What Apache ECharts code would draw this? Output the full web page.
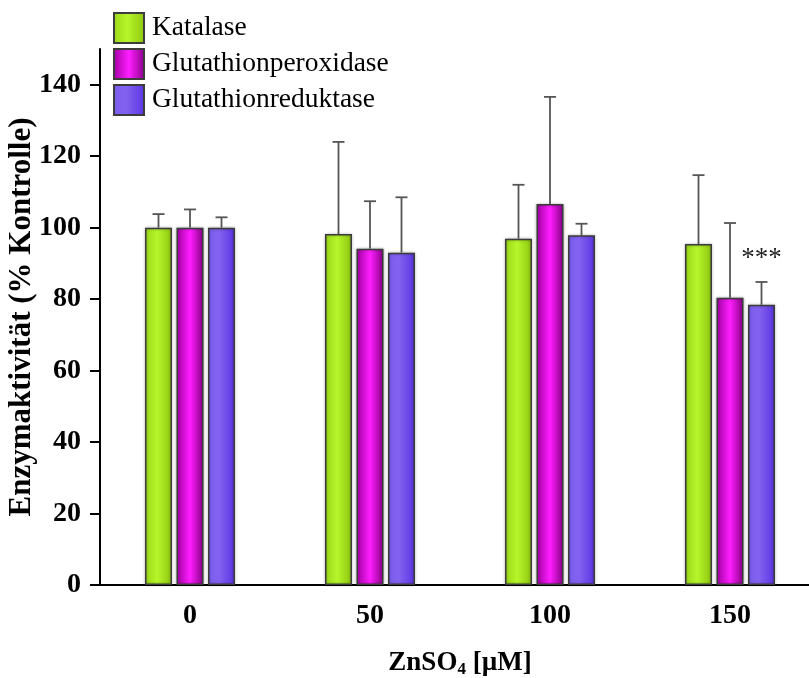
<!DOCTYPE html>
<html>
<head>
<meta charset="utf-8">
<script src="https://cdn.jsdelivr.net/npm/echarts@6/dist/echarts.min.js"></script>
<style>html,body{margin:0;padding:0;background:#fff}#c{width:809px;height:678px}</style>
</head>
<body>
<div id="c"></div>
<script>
const categories = ['0', '50', '100', '150'];
const seriesNames = ['Katalase', 'Glutathionperoxidase', 'Glutathionreduktase'];
const katalase = [100, 98.2, 96.9, 95.4];
const katalaseErr = [3.8, 25.8, 15.1, 19.3];
const gpx = [100, 94.1, 106.6, 80.4];
const gpxErr = [5.1, 13.3, 30.0, 20.9];
const gr = [100, 93.0, 97.9, 78.4];
const grErr = [2.9, 15.5, 3.2, 6.4];
const grSig = ['', '', '', '***'];
const yTicks = [0, 20, 40, 60, 80, 100, 120, 140];

const FONT = '"Liberation Serif", "Times New Roman", serif';

function grad(stops) {
  return new echarts.graphic.LinearGradient(0, 0, 1, 0, stops.map((c) => ({ offset: c[0], color: c[1] })));
}
const colors = [
  grad([[0, '#9bd81a'], [0.45, '#b6f62a'], [1, '#8ec610']]),
  grad([[0, '#a000a0'], [0.5, '#ff1eff'], [1, '#880088']]),
  grad([[0, '#7a5cee'], [0.4, '#8462f0'], [1, '#5a34e2']])
];

function barSeries(name, vals, color) {
  return {
    name: name, type: 'bar', data: vals, barWidth: 27, barGap: '16.7%',
    itemStyle: { color: color, borderColor: '#3c3c3c', borderWidth: 1.5,
      shadowColor: 'rgba(0,0,0,0.3)', shadowBlur: 3 },
    z: 2
  };
}

function errSeries(vals, errs, offset, marks) {
  return {
    type: 'custom', z: 3, silent: true,
    data: vals.map((v, i) => [i, v, errs[i]]),
    renderItem: function (params, api) {
      const i = api.value(0);
      const v = api.value(1);
      const e = api.value(2);
      const base = api.coord([i, v]);
      const top = api.coord([i, v + e]);
      const x = base[0] + offset;
      const style = { stroke: '#555', lineWidth: 1.8 };
      const children = [
        { type: 'line', shape: { x1: x, y1: base[1], x2: x, y2: top[1] }, style: style },
        { type: 'line', shape: { x1: x - 6, y1: top[1], x2: x + 6, y2: top[1] }, style: style }
      ];
      const mark = marks ? marks[params.dataIndex] : '';
      if (mark) {
        children.push({ type: 'text', style: { text: mark, x: x, y: top[1] - 10, align: 'center', verticalAlign: 'bottom',
          font: '27px ' + FONT, fill: '#222' } });
      }
      return { type: 'group', children: children };
    }
  };
}

const chart = echarts.init(document.getElementById('c'), null, { renderer: 'canvas' });
chart.setOption({
  animation: false,
  backgroundColor: '#fff',
  legend: {
    data: seriesNames, orient: 'vertical', left: 108, top: 7,
    itemWidth: 30, itemHeight: 30, itemGap: 4, icon: 'rect',
    textStyle: { fontFamily: FONT, fontSize: 27.5, color: '#000', padding: [0, 0, 0, 3] }
  },
  grid: { left: 100, top: 49, width: 720, bottom: 93, containLabel: false, outerBoundsMode: 'none' },
  xAxis: {
    type: 'category', data: categories,
    axisLine: { lineStyle: { color: '#000', width: 2 } },
    axisTick: { alignWithLabel: true, length: 10, lineStyle: { color: '#000', width: 2 } },
    axisLabel: { fontFamily: FONT, fontSize: 28, fontWeight: 'bold', color: '#000', margin: 17 },
    name: '{a|ZnSO}{s|4}{a| [µM]}', nameLocation: 'middle', nameGap: 64,
    nameTextStyle: { rich: {
      a: { fontFamily: FONT, fontSize: 27, fontWeight: 'bold', color: '#000' },
      s: { fontFamily: FONT, fontSize: 17, fontWeight: 'bold', color: '#000', verticalAlign: 'bottom', padding: [12, 0, 0, 0] }
    } }
  },
  yAxis: {
    type: 'value', min: 0, max: 150, interval: 20,
    splitLine: { show: false },
    axisLine: { show: true, lineStyle: { color: '#000', width: 2 } },
    axisTick: { show: true, length: 10, customValues: yTicks, lineStyle: { color: '#000', width: 2 } },
    axisLabel: { customValues: yTicks, fontFamily: FONT, fontSize: 28, fontWeight: 'bold', color: '#000', margin: 19 },
    name: 'Enzymaktivität (% Kontrolle)', nameLocation: 'middle', nameGap: 63, nameMoveOverlap: false,
    nameTextStyle: { fontFamily: FONT, fontSize: 31, fontWeight: 'bold', color: '#000' }
  },
  series: [
    barSeries(seriesNames[0], katalase, colors[0]),
    barSeries(seriesNames[1], gpx, colors[1]),
    barSeries(seriesNames[2], gr, colors[2]),
    errSeries(katalase, katalaseErr, -31.5),
    errSeries(gpx, gpxErr, 0),
    errSeries(gr, grErr, 31.5, grSig)
  ]
});
</script>
</body>
</html>
